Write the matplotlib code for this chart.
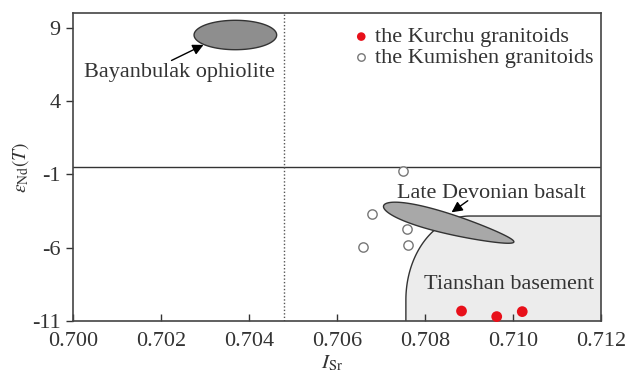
import numpy as np
import matplotlib
matplotlib.use("Agg")
import matplotlib.pyplot as plt
from matplotlib.patches import Polygon

plt.rcParams['font.family'] = ['Liberation Serif', 'DejaVu Serif']
plt.rcParams['mathtext.fontset'] = 'stix'
plt.rcParams['axes.unicode_minus'] = False

# Sr-Nd isotope data
kurchu_isr = [0.70883, 0.70963, 0.71021]
kurchu_end = [-10.32, -10.70, -10.36]
kumishen_isr = [0.70749, 0.70680, 0.70758, 0.70660, 0.70761]
kumishen_end = [-0.74, -3.70, -4.74, -5.93, -5.84]

x_ticks = [0.700, 0.702, 0.704, 0.706, 0.708, 0.710, 0.712]
y_ticks = [-11, -6, -1, 4, 9]
xlim = (0.700, 0.712)
ylim = (-11, 10)

# reference lines
end_zero = -0.5
isr_bse = 0.7048

# fields: centre, half-axes (in pixels of the plot area), tilt
bayan_c = (0.70369, 8.50)
bayan_ab = (41.3, 14.7)
basalt_c = (0.708539, -4.38)
basalt_ab = (67.6, 10.0)
basalt_tilt = -15.5
# Tianshan basement: rounded corner (centre, radii in px)
base_c = (0.70902, -9.57)
base_ab = (64.0, 84.0)

ink = '#333333'
W, H, DPI = 6.28, 3.76, 100
ax_pos = [73 / 628, 1 - 321 / 376, 528 / 628, 308 / 376]

fig = plt.figure(figsize=(W, H), dpi=DPI)
ax = fig.add_axes(ax_pos)
ax.set_xlim(*xlim)
ax.set_ylim(*ylim)

# pixels per data unit, so shapes keep their look
sx = W * DPI * ax_pos[2] / (xlim[1] - xlim[0])
sy = H * DPI * ax_pos[3] / (ylim[1] - ylim[0])


def blob(c, ab, tilt=0.0, taper=0.0, n=200):
    t = np.linspace(0, 2 * np.pi, n)
    u = ab[0] * np.cos(t)
    v = ab[1] * np.sin(t) * (1 - taper * np.cos(t))
    r = np.deg2rad(tilt)
    pu = u * np.cos(r) - v * np.sin(r)
    pv = u * np.sin(r) + v * np.cos(r)
    return np.column_stack([c[0] + pu / sx, c[1] + pv / sy])


# basement field
t = np.linspace(np.pi, np.pi / 2, 80)
cx = base_c[0] + base_ab[0] * np.cos(t) / sx
cy = base_c[1] + base_ab[1] * np.sin(t) / sy
top = cy[-1]
bx = np.concatenate([[cx[0]], cx, [xlim[1], xlim[1]]])
by = np.concatenate([[ylim[0]], cy, [top, ylim[0]]])
ax.add_patch(Polygon(np.column_stack([bx, by]), closed=True,
                     facecolor='#ececec', edgecolor='none', zorder=1))
ax.plot(np.concatenate([[cx[0]], cx, [xlim[1]]]),
        np.concatenate([[ylim[0]], cy, [top]]), color=ink, lw=1.0, zorder=2)

ax.add_patch(Polygon(blob(bayan_c, bayan_ab), closed=True,
                     facecolor='#8e8e8e', edgecolor=ink, lw=1.0, zorder=3))
ax.add_patch(Polygon(blob(basalt_c, basalt_ab, basalt_tilt, taper=0.3), closed=True,
                     facecolor='#a8a8a8', edgecolor=ink, lw=1.0, zorder=3))

ax.axhline(end_zero, color=ink, lw=1.0, zorder=2)
ax.axvline(isr_bse, color='#555555', lw=1.0, ls=(0, (1, 1.5)), zorder=2)

ax.scatter(kurchu_isr, kurchu_end, s=60, color='#e8101a', edgecolor='none',
           zorder=5, label='the Kurchu granitoids', clip_on=False)
ax.scatter(kumishen_isr, kumishen_end, s=45, facecolor='white',
           edgecolor='#777777', lw=1.0, zorder=5, label='the Kumishen granitoids')

arrow = dict(arrowstyle='-|>', color='k', lw=1.0, mutation_scale=16)
ax.annotate('', xy=(0.703023, 7.91), xytext=(0.702182, 6.68), arrowprops=arrow, zorder=4)
ax.annotate('', xy=(0.708552, -3.70), xytext=(0.709023, -2.69), arrowprops=arrow, zorder=4)

ax.text(0.70243, 5.66, 'Bayanbulak ophiolite', ha='center', va='baseline',
        fontsize=16, color=ink)
ax.text(0.709515, -2.60, 'Late Devonian basalt', ha='center', va='baseline',
        fontsize=16, color=ink)
ax.text(0.70991, -8.84, 'Tianshan basement', ha='center', va='baseline',
        fontsize=16, color=ink)

leg = ax.legend(loc='upper right', bbox_to_anchor=(0.985, 0.955), frameon=False,
                fontsize=16, borderpad=0, borderaxespad=0, handlelength=0.6,
                handletextpad=0.3, labelspacing=0.0, markerscale=0.8)
for txt in leg.get_texts():
    txt.set_color(ink)

ax.set_xticks(x_ticks)
ax.set_xticklabels(['%.3f' % v for v in x_ticks])
ax.set_yticks(y_ticks)
ax.tick_params(axis='x', direction='in', length=5, width=1.0, labelsize=16,
               colors=ink, pad=8)
ax.tick_params(axis='y', direction='out', length=5, width=1.0, labelsize=16,
               colors=ink, pad=4)
for s in ax.spines.values():
    s.set_color('#444444')
    s.set_linewidth(1.2)

ax.set_xlabel(r'$I_{\rm Sr}$', fontsize=15, color=ink)
ax.xaxis.set_label_coords(0.49, -0.105)
ax.set_ylabel(r'$\varepsilon_{\rm Nd}(T)$', fontsize=14, color=ink)
ax.yaxis.set_label_coords(-0.08, 0.5)

fig.savefig('out.png', dpi=DPI)
